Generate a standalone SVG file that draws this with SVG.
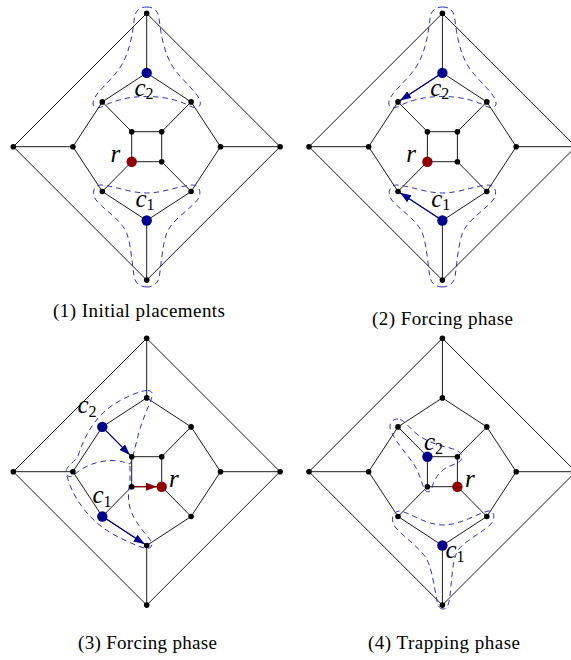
<svg xmlns="http://www.w3.org/2000/svg" width="571" height="660" viewBox="0 0 571 660">
<style>
.e{fill:none;stroke:#000;stroke-width:0.9}
.n{fill:#000}
.cb{fill:#00008f}
.cr{fill:#8f0000}
.reg{fill:none;stroke:#1a1ab8;stroke-width:0.9;stroke-dasharray:5.5 4}
.arb{fill:none;stroke:#00008f;stroke-width:1.2;marker-end:url(#ab)}
.arr{fill:none;stroke:#8f0000;stroke-width:1.2;marker-end:url(#ar)}
.lbl{font-family:"Liberation Serif",serif;font-style:italic;font-size:25px;fill:#000}
.sub{font-style:normal;font-size:16px}
.cap{font-family:"Liberation Serif",serif;font-size:19px;fill:#000}
</style>
<defs>
<marker id="ab" viewBox="0 0 11 8" refX="11" refY="4" markerWidth="11" markerHeight="8" orient="auto" markerUnits="userSpaceOnUse"><path d="M0,0 L11,4 L0,8 Z" fill="#00008f"/></marker>
<marker id="ar" viewBox="0 0 11 8" refX="11" refY="4" markerWidth="11" markerHeight="8" orient="auto" markerUnits="userSpaceOnUse"><path d="M0,0 L11,4 L0,8 Z" fill="#8f0000"/></marker>
</defs>

<!-- ================= Panel 1 ================= -->
<g id="panel1">
<g id="p1-connectors" transform="translate(146.7,146.7)">
<path class="e" d="M0,-133.4 L-133.4,0 L0,133.4 L133.4,0 Z M0,-133.4 V-73.8 M-133.4,0 H-73.8 M133.4,0 H73.8 M0,133.4 V73.8 M0,-73.8 L-44.4,-44.8 L-73.8,0 L-44.4,44.8 L0,73.8 L44.4,44.8 L73.8,0 L44.4,-44.8 Z M-44.4,-44.8 L-15,-15 M44.4,-44.8 L15,-15 M44.4,44.8 L15,15 M-44.4,44.8 L-15,15 M-15,-15 H15 V15 H-15 Z"/>
</g>
<g id="p1-regions" transform="translate(146.7,146.7)">
<path class="reg" d="M0,-139.7 C6.3,-139.7 11.3,-136.7 12.3,-128.7 C14.3,-111.7 17.3,-91.7 28.3,-76.7 C38,-64 51.3,-53.7 53.3,-45.7 C55.3,-38.7 48.3,-37.7 43.3,-40.7 C29.3,-47.7 15.3,-50.2 0,-50.2 C-15.3,-50.2 -29.3,-47.7 -43.3,-40.7 C-48.3,-37.7 -55.3,-38.7 -53.3,-45.7 C-51.3,-53.7 -38,-64 -28.3,-76.7 C-17.3,-91.7 -14.3,-111.7 -12.3,-128.7 C-11.3,-136.7 -6.3,-139.7 0,-139.7 Z"/>
<path class="reg" d="M0,140.3 C-6.7,140.3 -11.7,136.3 -12.7,129.3 C-14.7,115.3 -15.7,99.3 -19.7,87.3 C-24.7,73.3 -42.7,63.3 -50.7,53.3 C-55.7,46.3 -52.7,38.3 -45.7,38.3 C-31.7,39.3 -16.7,46.3 0,46.3 C16.7,46.3 31.7,39.3 45.7,38.3 C52.7,38.3 55.7,46.3 50.7,53.3 C42.7,63.3 24.7,73.3 19.7,87.3 C15.7,99.3 14.7,115.3 12.7,129.3 C11.7,136.3 6.7,140.3 0,140.3 Z"/>
</g>
<g id="p1-nodes" transform="translate(146.7,146.7)">
<g id="p1-T"><circle class="n" cx="0" cy="-133.4" r="2.8"/></g>
<g id="p1-L"><circle class="n" cx="-133.4" cy="0" r="2.8"/></g>
<g id="p1-R"><circle class="n" cx="133.4" cy="0" r="2.8"/></g>
<g id="p1-B"><circle class="n" cx="0" cy="133.4" r="2.8"/></g>
<g id="p1-c2"><circle class="cb" cx="0" cy="-73.8" r="5.2"/></g>
<g id="p1-oL"><circle class="n" cx="-73.8" cy="0" r="2.8"/></g>
<g id="p1-oR"><circle class="n" cx="73.8" cy="0" r="2.8"/></g>
<g id="p1-c1"><circle class="cb" cx="0" cy="73.8" r="5.2"/></g>
<g id="p1-oUL"><circle class="n" cx="-44.4" cy="-44.8" r="2.8"/></g>
<g id="p1-oUR"><circle class="n" cx="44.4" cy="-44.8" r="2.8"/></g>
<g id="p1-oLL"><circle class="n" cx="-44.4" cy="44.8" r="2.8"/></g>
<g id="p1-oLR"><circle class="n" cx="44.4" cy="44.8" r="2.8"/></g>
<g id="p1-sTL"><circle class="n" cx="-15" cy="-15" r="2.8"/></g>
<g id="p1-sTR"><circle class="n" cx="15" cy="-15" r="2.8"/></g>
<g id="p1-r"><circle class="cr" cx="-15" cy="15" r="5.2"/></g>
<g id="p1-sBR"><circle class="n" cx="15" cy="15" r="2.8"/></g>
</g>
<g id="p1-labels">
<text class="lbl" x="134.5" y="95.7">c<tspan class="sub" dy="3.5">2</tspan></text>
<text class="lbl" x="135.5" y="206.5">c<tspan class="sub" dy="3.5">1</tspan></text>
<text class="lbl" x="110.5" y="161.7">r</text>
</g>
<text class="cap" x="53" y="317" textLength="172" lengthAdjust="spacing">(1) Initial placements</text>
</g>

<!-- ================= Panel 2 ================= -->
<g id="panel2">
<g id="p2-connectors" transform="translate(442.4,146.7)">
<path class="e" d="M0,-133.4 L-133.4,0 L0,133.4 L133.4,0 Z M0,-133.4 V-73.8 M-133.4,0 H-73.8 M133.4,0 H73.8 M0,133.4 V73.8 M0,-73.8 L-44.4,-44.8 L-73.8,0 L-44.4,44.8 L0,73.8 L44.4,44.8 L73.8,0 L44.4,-44.8 Z M-44.4,-44.8 L-15,-15 M44.4,-44.8 L15,-15 M44.4,44.8 L15,15 M-44.4,44.8 L-15,15 M-15,-15 H15 V15 H-15 Z"/>
</g>
<g id="p2-regions" transform="translate(442.4,146.7)">
<path class="reg" d="M0,-139.7 C6.3,-139.7 11.3,-136.7 12.3,-128.7 C14.3,-111.7 17.3,-91.7 28.3,-76.7 C38,-64 51.3,-53.7 53.3,-45.7 C55.3,-38.7 48.3,-37.7 43.3,-40.7 C29.3,-47.7 15.3,-50.2 0,-50.2 C-15.3,-50.2 -29.3,-47.7 -43.3,-40.7 C-48.3,-37.7 -55.3,-38.7 -53.3,-45.7 C-51.3,-53.7 -38,-64 -28.3,-76.7 C-17.3,-91.7 -14.3,-111.7 -12.3,-128.7 C-11.3,-136.7 -6.3,-139.7 0,-139.7 Z"/>
<path class="reg" d="M0,140.3 C-6.7,140.3 -11.7,136.3 -12.7,129.3 C-14.7,115.3 -15.7,99.3 -19.7,87.3 C-24.7,73.3 -42.7,63.3 -50.7,53.3 C-55.7,46.3 -52.7,38.3 -45.7,38.3 C-31.7,39.3 -16.7,46.3 0,46.3 C16.7,46.3 31.7,39.3 45.7,38.3 C52.7,38.3 55.7,46.3 50.7,53.3 C42.7,63.3 24.7,73.3 19.7,87.3 C15.7,99.3 14.7,115.3 12.7,129.3 C11.7,136.3 6.7,140.3 0,140.3 Z"/>
</g>
<g id="p2-arrows">
<path class="arb" d="M438.2,75.6 L400.1,100.6"/>
<path class="arb" d="M438.2,217.8 L400.1,192.8"/>
</g>
<g id="p2-nodes" transform="translate(442.4,146.7)">
<g id="p2-T"><circle class="n" cx="0" cy="-133.4" r="2.8"/></g>
<g id="p2-L"><circle class="n" cx="-133.4" cy="0" r="2.8"/></g>
<g id="p2-R"><circle class="n" cx="133.4" cy="0" r="2.8"/></g>
<g id="p2-B"><circle class="n" cx="0" cy="133.4" r="2.8"/></g>
<g id="p2-c2"><circle class="cb" cx="0" cy="-73.8" r="5.2"/></g>
<g id="p2-oL"><circle class="n" cx="-73.8" cy="0" r="2.8"/></g>
<g id="p2-oR"><circle class="n" cx="73.8" cy="0" r="2.8"/></g>
<g id="p2-c1"><circle class="cb" cx="0" cy="73.8" r="5.2"/></g>
<g id="p2-oUL"><circle class="n" cx="-44.4" cy="-44.8" r="2.8"/></g>
<g id="p2-oUR"><circle class="n" cx="44.4" cy="-44.8" r="2.8"/></g>
<g id="p2-oLL"><circle class="n" cx="-44.4" cy="44.8" r="2.8"/></g>
<g id="p2-oLR"><circle class="n" cx="44.4" cy="44.8" r="2.8"/></g>
<g id="p2-sTL"><circle class="n" cx="-15" cy="-15" r="2.8"/></g>
<g id="p2-sTR"><circle class="n" cx="15" cy="-15" r="2.8"/></g>
<g id="p2-r"><circle class="cr" cx="-15" cy="15" r="5.2"/></g>
<g id="p2-sBR"><circle class="n" cx="15" cy="15" r="2.8"/></g>
</g>
<g id="p2-labels">
<text class="lbl" x="430.2" y="95.7">c<tspan class="sub" dy="3.5">2</tspan></text>
<text class="lbl" x="431.2" y="206.5">c<tspan class="sub" dy="3.5">1</tspan></text>
<text class="lbl" x="406.2" y="161.7">r</text>
</g>
<text class="cap" x="372" y="325" textLength="141" lengthAdjust="spacing">(2) Forcing phase</text>
</g>

<!-- ================= Panel 3 ================= -->
<g id="panel3">
<g id="p3-connectors" transform="translate(146.7,471.7)">
<path class="e" d="M0,-133.4 L-133.4,0 L0,133.4 L133.4,0 Z M0,-133.4 V-73.8 M-133.4,0 H-73.8 M133.4,0 H73.8 M0,133.4 V73.8 M0,-73.8 L-44.4,-44.8 L-73.8,0 L-44.4,44.8 L0,73.8 L44.4,44.8 L73.8,0 L44.4,-44.8 Z M-44.4,-44.8 L-15,-15 M44.4,-44.8 L15,-15 M44.4,44.8 L15,15 M-44.4,44.8 L-15,15 M-15,-15 H15 V15 H-15 Z"/>
</g>
<g id="p3-regions">
<path class="reg" d="M147,390.5 C141,390.5 124,397 110,407 C96,417 85,434 78,456 C74,463 66,466 66,472 C66,477 71,478 75,474 C84,466 98,460.5 112,460.5 C120,460.5 127,463 130,464 C133,458 135,447 139,432 C143,418 149,406 152,397 C153.5,392.5 151,390.5 147,390.5 Z"/>
<path class="reg" d="M67,476 C70,489 80,508 96,522 C108,533 125,541 141,547 C148,550 154,548 151,541 C146,534 134,522 130,508 C127,498 129,488 130,480 L130,466"/>
</g>
<g id="p3-arrows">
<path class="arb" d="M105.8,430.6 L129.9,454.9"/>
<path class="arb" d="M106.5,519.1 L144.6,544.1"/>
<path class="arr" d="M131.7,486.7 L157,486.7"/>
</g>
<g id="p3-nodes" transform="translate(146.7,471.7)">
<g id="p3-T"><circle class="n" cx="0" cy="-133.4" r="2.8"/></g>
<g id="p3-L"><circle class="n" cx="-133.4" cy="0" r="2.8"/></g>
<g id="p3-R"><circle class="n" cx="133.4" cy="0" r="2.8"/></g>
<g id="p3-B"><circle class="n" cx="0" cy="133.4" r="2.8"/></g>
<g id="p3-oT"><circle class="n" cx="0" cy="-73.8" r="2.8"/></g>
<g id="p3-oL"><circle class="n" cx="-73.8" cy="0" r="2.8"/></g>
<g id="p3-oR"><circle class="n" cx="73.8" cy="0" r="2.8"/></g>
<g id="p3-oB"><circle class="n" cx="0" cy="73.8" r="2.8"/></g>
<g id="p3-c2"><circle class="cb" cx="-44.4" cy="-44.8" r="5.2"/></g>
<g id="p3-oUR"><circle class="n" cx="44.4" cy="-44.8" r="2.8"/></g>
<g id="p3-c1"><circle class="cb" cx="-44.4" cy="44.8" r="5.2"/></g>
<g id="p3-oLR"><circle class="n" cx="44.4" cy="44.8" r="2.8"/></g>
<g id="p3-sTL"><circle class="n" cx="-15" cy="-15" r="2.8"/></g>
<g id="p3-sTR"><circle class="n" cx="15" cy="-15" r="2.8"/></g>
<g id="p3-sBL"><circle class="n" cx="-15" cy="15" r="2.8"/></g>
<g id="p3-r"><circle class="cr" cx="15" cy="15" r="5.2"/></g>
</g>
<g id="p3-labels">
<text class="lbl" x="77.5" y="413.3">c<tspan class="sub" dy="3.5">2</tspan></text>
<text class="lbl" x="92.5" y="503.3">c<tspan class="sub" dy="3.5">1</tspan></text>
<text class="lbl" x="169" y="486.7">r</text>
</g>
<text class="cap" x="78" y="649" textLength="139" lengthAdjust="spacing">(3) Forcing phase</text>
</g>

<!-- ================= Panel 4 ================= -->
<g id="panel4">
<g id="p4-connectors" transform="translate(442.4,471.7)">
<path class="e" d="M0,-133.4 L-133.4,0 L0,133.4 L133.4,0 Z M0,-133.4 V-73.8 M-133.4,0 H-73.8 M133.4,0 H73.8 M0,133.4 V73.8 M0,-73.8 L-44.4,-44.8 L-73.8,0 L-44.4,44.8 L0,73.8 L44.4,44.8 L73.8,0 L44.4,-44.8 Z M-44.4,-44.8 L-15,-15 M44.4,-44.8 L15,-15 M44.4,44.8 L15,15 M-44.4,44.8 L-15,15 M-15,-15 H15 V15 H-15 Z"/>
</g>
<g id="p4-regions">
<path class="reg" d="M398,419 C392,419 388,424 391,431 C396,443 408,455 415,466 C420,475 422,485 425,490 C428,494 432,491 433,484 C436,476 442,469 450,466 C456,463.5 462,462 462,457 C462,452 456,450 450,448 C440,446 428,442 418,435 C410,429 404,419 398,419 Z"/>
<path class="reg" d="M443,609 C438,609 437,602 436,595 C433,580 431,566 426,558 C420,548 405,538 396,528 C390,521 392,512 399,511 C410,512 425,525 443,525 C461,525 476,514 488,511 C494,510 496,518 491,524 C482,533 462,542 457,552 C452,562 452,580 450,595 C449,603 448,609 443,609 Z"/>
</g>
<g id="p4-nodes" transform="translate(442.4,471.7)">
<g id="p4-T"><circle class="n" cx="0" cy="-133.4" r="2.8"/></g>
<g id="p4-L"><circle class="n" cx="-133.4" cy="0" r="2.8"/></g>
<g id="p4-R"><circle class="n" cx="133.4" cy="0" r="2.8"/></g>
<g id="p4-B"><circle class="n" cx="0" cy="133.4" r="2.8"/></g>
<g id="p4-oT"><circle class="n" cx="0" cy="-73.8" r="2.8"/></g>
<g id="p4-oL"><circle class="n" cx="-73.8" cy="0" r="2.8"/></g>
<g id="p4-oR"><circle class="n" cx="73.8" cy="0" r="2.8"/></g>
<g id="p4-c1"><circle class="cb" cx="0" cy="73.8" r="5.2"/></g>
<g id="p4-oUL"><circle class="n" cx="-44.4" cy="-44.8" r="2.8"/></g>
<g id="p4-oUR"><circle class="n" cx="44.4" cy="-44.8" r="2.8"/></g>
<g id="p4-oLL"><circle class="n" cx="-44.4" cy="44.8" r="2.8"/></g>
<g id="p4-oLR"><circle class="n" cx="44.4" cy="44.8" r="2.8"/></g>
<g id="p4-c2"><circle class="cb" cx="-15" cy="-15" r="5.2"/></g>
<g id="p4-sTR"><circle class="n" cx="15" cy="-15" r="2.8"/></g>
<g id="p4-sBL"><circle class="n" cx="-15" cy="15" r="2.8"/></g>
<g id="p4-r"><circle class="cr" cx="15" cy="15" r="5.2"/></g>
</g>
<g id="p4-labels">
<text class="lbl" x="424" y="450">c<tspan class="sub" dy="3.5">2</tspan></text>
<text class="lbl" x="445.5" y="558.3">c<tspan class="sub" dy="3.5">1</tspan></text>
<text class="lbl" x="465" y="486.7">r</text>
</g>
<text class="cap" x="368" y="649" textLength="152" lengthAdjust="spacing">(4) Trapping phase</text>
</g>
</svg>
